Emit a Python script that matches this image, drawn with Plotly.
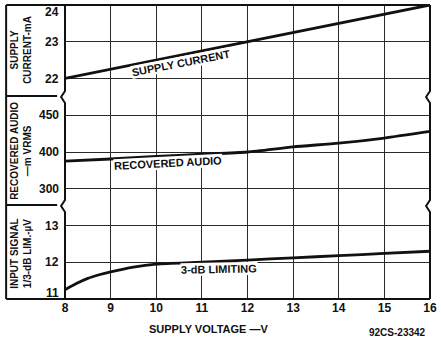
import numpy as np
import plotly.graph_objects as go

# ---------------- data ----------------
voltage = [8, 9, 10, 11, 12, 13, 14, 15, 16]
supply_current_ma = [22.0, 22.25, 22.5, 22.75, 23.0, 23.25, 23.5, 23.77, 24.0]

recovered_audio_mv = [375, 381, 388, 394, 400, 407, 412, 419, 428]

limit_voltage = [8, 8.25, 8.5, 8.75, 9, 9.5, 10, 11, 12, 13, 14, 15, 16]
limiting_uv = [11.25, 11.42, 11.56, 11.66, 11.74, 11.87, 11.95, 12.0, 12.06, 12.12, 12.18, 12.24, 12.3]

x_ticks = [8, 9, 10, 11, 12, 13, 14, 15, 16]
current_ticks = [22, 23, 24]
audio_ticks = [300, 400, 450]
limit_ticks = [11, 12, 13]

# printed audio scale has equally spaced, non-uniform labels
audio_steps = list(range(len(audio_ticks)))
def audio_scale(v):
    return np.interp(v, audio_ticks, audio_steps)

# ---------------- layout geometry ----------------
W, H = 441, 341
L, R, T, B = 65, 4, 5, 42
PW = W - L - R
PH = H - T - B

def px(x):
    return (x - L) / PW

def py(y):
    return (H - B - y) / PH

FONT = "Liberation Sans"
BLACK = "#111111"
GRID = "#2a2a2a"

fig = go.Figure()
fig.add_trace(go.Scatter(x=voltage, y=supply_current_ma, mode="lines",
                         line=dict(color=BLACK, width=2.8),
                         xaxis="x", yaxis="y", showlegend=False))
fig.add_trace(go.Scatter(x=voltage, y=audio_scale(recovered_audio_mv), mode="lines",
                         line=dict(color=BLACK, width=2.8, shape="spline", smoothing=0.6),
                         xaxis="x", yaxis="y2", showlegend=False))
fig.add_trace(go.Scatter(x=limit_voltage, y=limiting_uv, mode="lines",
                         line=dict(color=BLACK, width=2.8, shape="spline", smoothing=0.8),
                         xaxis="x", yaxis="y3", showlegend=False))

grid_kw = dict(showgrid=True, gridcolor=GRID, gridwidth=1.3, zeroline=False,
               showline=False, ticks="", showticklabels=False)

fig.update_layout(
    width=W, height=H,
    margin=dict(l=L, r=R, t=T, b=B),
    paper_bgcolor="white", plot_bgcolor="white",
    font=dict(family=FONT, color=BLACK),
    xaxis=dict(domain=[0, 1], range=[8, 16], anchor="y3", tickvals=x_ticks,
               showgrid=True, gridcolor=GRID, gridwidth=1.3, zeroline=False,
               showline=False, ticks="", showticklabels=True, ticklabeloverflow="allow",
               tickfont=dict(family=FONT, size=12, color=BLACK, weight="bold")),
    yaxis=dict(domain=[5.5 / 8, 1], range=[21.5, 24], tickvals=current_ticks, anchor="x", **grid_kw),
    yaxis2=dict(domain=[2.5 / 8, 5.5 / 8], range=[-0.5, 2.5], tickvals=audio_steps, anchor="x", **grid_kw),
    yaxis3=dict(domain=[0, 2.5 / 8], range=[11, 13.5], tickvals=limit_ticks, anchor="x", **grid_kw),
)

# ---------------- y tick labels ----------------
tick_font = dict(family=FONT, size=12, color=BLACK, weight="bold")
annotations = []
def ytick(text, yref, yval, shift=0):
    annotations.append(dict(text=text, xref="paper", x=0, xanchor="right", xshift=-4,
                            yref=yref, y=yval, yanchor="middle", yshift=shift,
                            showarrow=False, font=tick_font))

for v in current_ticks:
    ytick(str(v), "y", v, shift=-7 if v == max(current_ticks) else 0)
for s, v in zip(audio_steps, audio_ticks):
    ytick(str(v), "y2", s)
for v in limit_ticks:
    ytick(str(v), "y3", v, shift=6 if v == min(limit_ticks) else 0)

# ---------------- axis titles ----------------
title_font = dict(family=FONT, size=10, color=BLACK, weight="bold")
def ytitle(text, ycenter):
    annotations.append(dict(text=text, xref="paper", x=px(20), yref="paper", y=py(ycenter),
                            xanchor="center", yanchor="middle", textangle=-90,
                            showarrow=False, font=title_font, align="center"))

ytitle("SUPPLY<br>CURRENT-mA", 50)
ytitle("RECOVERED AUDIO<br>—m VRMS", 151)
ytitle("INPUT SIGNAL<br>1/3-dB LIM.-µV", 253)

annotations.append(dict(text="SUPPLY VOLTAGE —V", xref="paper", x=px(211), yref="paper", y=py(329),
                        xanchor="center", yanchor="middle", showarrow=False,
                        font=dict(family=FONT, size=11, color=BLACK, weight="bold")))
annotations.append(dict(text="92CS-23342", xref="paper", x=px(435), yref="paper", y=py(332),
                        xanchor="right", yanchor="middle", showarrow=False,
                        font=dict(family=FONT, size=10, color=BLACK, weight="bold")))

# ---------------- curve labels ----------------
lab_font = dict(family=FONT, size=11, color=BLACK, weight="bold")
annotations.append(dict(text="SUPPLY CURRENT", x=10.54, y=22.42, xref="x", yref="y",
                        textangle=-11, showarrow=False, font=lab_font, bgcolor="white", borderpad=0))
annotations.append(dict(text="RECOVERED AUDIO", x=10.26, y=0.70, xref="x", yref="y2",
                        textangle=-3, showarrow=False, font=lab_font, bgcolor="white", borderpad=0))
annotations.append(dict(text="3-dB LIMITING", x=11.38, y=11.82, xref="x", yref="y3",
                        textangle=-1, showarrow=False, font=lab_font, bgcolor="white", borderpad=0))

fig.update_layout(annotations=annotations)

# ---------------- frame with break marks ----------------
def path(points):
    return "M " + " L ".join(f"{px(a):.5f},{py(b):.5f}" for a, b in points)

fr = dict(color=BLACK, width=2)
b1, b2 = 97, 206
left_axis = [(65, 5), (65, b1 - 6), (61, b1), (65, b1 + 6), (65, b2 - 6), (61, b2), (65, b2 + 6), (65, 299)]
right_side = [(437, 5), (437, b1 - 6), (433, b1), (437, b1 + 6), (437, b2 - 6), (433, b2), (437, b2 + 6), (437, 299)]
shapes = [
    dict(type="path", xref="paper", yref="paper", path=path(left_axis), line=fr),
    dict(type="path", xref="paper", yref="paper", path=path(right_side), line=fr),
    dict(type="path", xref="paper", yref="paper", path=path([(5, 5), (437, 5)]), line=fr),
    dict(type="path", xref="paper", yref="paper", path=path([(5, 299), (437, 299)]), line=fr),
    dict(type="path", xref="paper", yref="paper", path=path([(5, 5), (5, 299)]), line=fr),
    dict(type="path", xref="paper", yref="paper", path=path([(5, 96), (57, 96)]), line=fr),
    dict(type="path", xref="paper", yref="paper", path=path([(5, 205), (57, 205)]), line=fr),
]
fig.update_layout(shapes=shapes)

fig.write_html(
    "out.html",
    config={"displayModeBar": False},
    post_script="document.body.style.margin='0';document.body.style.overflow='hidden';",
)
